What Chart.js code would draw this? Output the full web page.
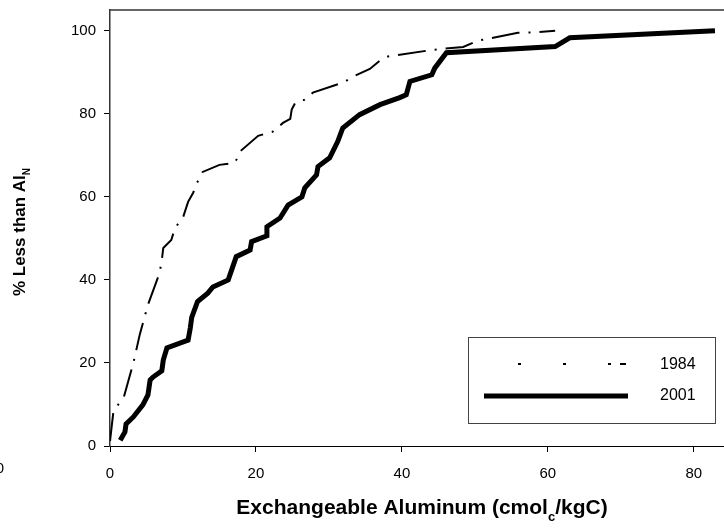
<!DOCTYPE html>
<html>
<head>
<meta charset="utf-8">
<script src="https://cdn.jsdelivr.net/npm/chart.js@4.4.1/dist/chart.umd.min.js"></script>
<style>
  html, body { margin: 0; padding: 0; background: #fff; }
  #wrap { width: 724px; height: 529px; position: relative; }
</style>
</head>
<body>
<div id="wrap"><canvas id="chart"></canvas></div>
<script>
// cumulative distribution, 1984 survey
const x1984 = [0, 0.45, 0.8, 1.9, 3.2, 4.1, 5.2, 6.8, 7.1, 7.3, 8.4, 8.9, 10, 10.7, 11.4, 11.9, 12.7, 15, 17.1, 18, 20.3, 22.3, 23.7, 24.7, 24.9, 25.4, 26.7, 27.8, 31.9, 33.6, 35.6, 37.4, 38.1, 44.2, 45.9, 48.4, 50.4, 55.9, 57.8, 61];
const y1984 = [1.2, 8, 9.2, 11.8, 20, 27, 34, 41.7, 44.8, 47.7, 49.6, 52.5, 55, 58.8, 61, 63.3, 66, 67.7, 68.2, 71.2, 74.7, 75.7, 77.8, 78.8, 81, 82.7, 83.4, 85.1, 87.5, 89.2, 90.8, 93.4, 93.8, 95.4, 95.7, 96.1, 97.6, 99.5, 99.6, 100];

// cumulative distribution, 2001 survey
const x2001 = [1.4, 2.05, 2.2, 3.2, 4.5, 5.2, 5.5, 5.9, 7.1, 7.3, 7.8, 10.7, 11, 11.2, 12, 13.4, 14.1, 16.2, 17.3, 19.2, 19.4, 21.5, 21.5, 23.3, 24.4, 26.3, 26.7, 28.3, 28.5, 30.1, 31.2, 31.9, 34.2, 37, 39.7, 40.6, 41.1, 44.1, 44.5, 46.1, 61, 63, 82.9];
const y2001 = [1.4, 3.4, 5.3, 7, 9.9, 12.3, 15.9, 16.6, 18.1, 20.7, 23.6, 25.5, 28.4, 31, 34.8, 36.8, 38.3, 40, 45.6, 47.2, 49.2, 50.6, 52.8, 54.9, 58, 60, 62.2, 65.3, 67.3, 69.4, 73.3, 76.6, 79.8, 82.2, 83.9, 84.6, 87.8, 89.4, 91, 94.7, 96.2, 98.3, 100];

const xTicks = [0, 20, 40, 60, 80];
const yTicks = [0, 20, 40, 60, 80, 100];
const seriesNames = ["1984", "2001"];

const FONT = "'Liberation Sans', Arial, sans-serif";

function toPoints(xs, ys) {
  return xs.map((x, i) => ({ x: x, y: ys[i] }));
}

// draws "main" then a lowered small subscript, returns end x
function drawSub(ctx, x, y, main, sub, after, size) {
  ctx.font = "bold " + size + "px " + FONT;
  ctx.fillText(main, x, y);
  x += ctx.measureText(main).width;
  ctx.font = "bold " + Math.round(size * 0.6) + "px " + FONT;
  ctx.fillText(sub, x, y + size * 0.45);
  x += ctx.measureText(sub).width;
  if (after) {
    ctx.font = "bold " + size + "px " + FONT;
    ctx.fillText(after, x, y);
    x += ctx.measureText(after).width;
  }
  return x;
}

function textWidth(ctx, main, sub, after, size) {
  ctx.font = "bold " + size + "px " + FONT;
  let w = ctx.measureText(main).width + (after ? ctx.measureText(after).width : 0);
  ctx.font = "bold " + Math.round(size * 0.6) + "px " + FONT;
  return w + ctx.measureText(sub).width;
}

const extras = {
  id: "extras",
  afterDraw(chart) {
    const ctx = chart.ctx;
    const a = chart.chartArea;
    ctx.save();

    // top frame line
    ctx.strokeStyle = "#333";
    ctx.lineWidth = 1.5;
    ctx.beginPath();
    ctx.moveTo(a.left, a.top);
    ctx.lineTo(chart.width, a.top);
    ctx.stroke();

    ctx.fillStyle = "#000";
    ctx.textBaseline = "middle";
    ctx.textAlign = "left";

    // x title
    const xs = 21;
    const xw = textWidth(ctx, "Exchangeable Aluminum (cmol", "c", "/kgC)", xs);
    drawSub(ctx, 422 - xw / 2, 508, "Exchangeable Aluminum (cmol", "c", "/kgC)", xs);

    // y title, rotated
    ctx.save();
    ctx.translate(20, 232);
    ctx.rotate(-Math.PI / 2);
    const yw = textWidth(ctx, "% Less than Al", "N", null, 17);
    drawSub(ctx, -yw / 2, 0, "% Less than Al", "N", null, 17);
    ctx.restore();

    // stray clipped label at the left edge
    ctx.font = "15px " + FONT;
    ctx.textAlign = "right";
    ctx.fillText("0", 4, 469);

    // legend
    ctx.strokeStyle = "#444";
    ctx.lineWidth = 1;
    ctx.strokeRect(468.5, 337.5, 247, 86);
    ctx.strokeStyle = "#000";
    ctx.lineWidth = 2;
    ctx.setLineDash([3, 42]);
    ctx.beginPath();
    ctx.moveTo(518, 364);
    ctx.lineTo(612, 364);
    ctx.stroke();
    ctx.setLineDash([]);
    ctx.beginPath();
    ctx.moveTo(620, 364);
    ctx.lineTo(626, 364);
    ctx.stroke();
    ctx.lineWidth = 5;
    ctx.beginPath();
    ctx.moveTo(484, 396);
    ctx.lineTo(628, 396);
    ctx.stroke();
    ctx.font = "16px " + FONT;
    ctx.textAlign = "left";
    ctx.fillText(seriesNames[0], 660, 365);
    ctx.fillText(seriesNames[1], 660, 396);

    ctx.restore();
  },
};

Chart.defaults.font.family = FONT;
Chart.defaults.font.size = 15;
Chart.defaults.color = "#000";

const chart = new Chart(document.getElementById("chart"), {
  type: "scatter",
  data: {
    datasets: [
      {
        label: seriesNames[0],
        data: toPoints(x1984, y1984),
        showLine: true,
        borderColor: "#000",
        borderWidth: 2,
        borderDash: [28, 9, 2, 9],
        pointRadius: 0,
        fill: false,
      },
      {
        label: seriesNames[1],
        data: toPoints(x2001, y2001),
        showLine: true,
        borderColor: "#000",
        borderWidth: 5,
        pointRadius: 0,
        fill: false,
      },
    ],
  },
  options: {
    responsive: true,
    maintainAspectRatio: false,
    animation: false,
    layout: { autoPadding: false, padding: { left: 0, top: 10, right: 1, bottom: 0 } },
    plugins: {
      legend: { display: false },
      tooltip: { enabled: false },
    },
    scales: {
      x: {
        type: "linear",
        min: 0,
        max: 84,
        afterFit(scale) {
          scale.height = 83;
          scale.paddingLeft = 0;
          scale.paddingRight = 0;
        },
        afterBuildTicks(scale) { scale.ticks = xTicks.map((v) => ({ value: v })); },
        grid: { drawOnChartArea: false, drawTicks: true, tickLength: 6, color: "#000" },
        border: { display: true, color: "#000", width: 1 },
        ticks: { padding: 13, maxRotation: 0 },
      },
      y: {
        type: "linear",
        min: 0,
        max: 105,
        afterFit(scale) {
          scale.width = 110;
          scale.paddingTop = 0;
          scale.paddingBottom = 0;
        },
        afterBuildTicks(scale) { scale.ticks = yTicks.map((v) => ({ value: v })); },
        grid: { drawOnChartArea: false, drawTicks: true, tickLength: 6, color: "#000" },
        border: { display: true, color: "#333", width: 1.5 },
        ticks: { padding: 8 },
      },
    },
  },
  plugins: [extras],
});
</script>
</body>
</html>
